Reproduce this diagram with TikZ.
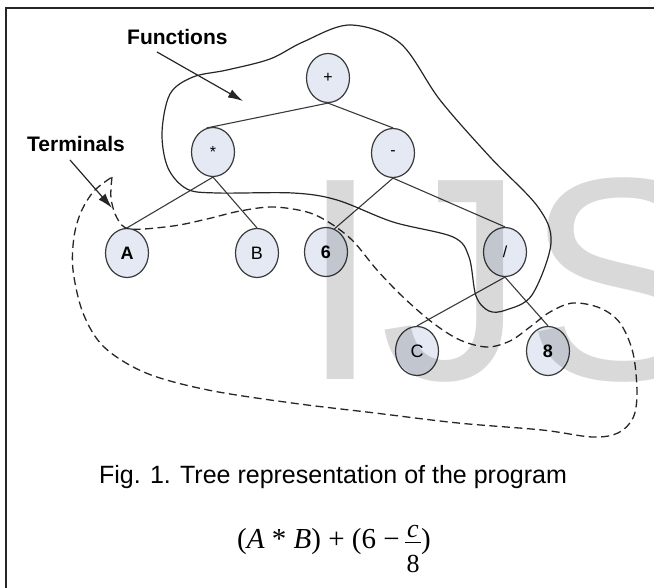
\documentclass[tikz,border=0pt]{standalone}
\usepackage{fontspec}
\setmainfont{Liberation Sans}
\newfontfamily\seriffont{Liberation Serif}
\usetikzlibrary{shapes.geometric,arrows.meta}
\definecolor{nodefill}{HTML}{E4E9F4}
\definecolor{inkline}{HTML}{3A3A3A}
\begin{document}
\begin{tikzpicture}[x=1pt,y=-1pt,
  tnode/.style={ellipse,draw=inkline,line width=1.2pt,fill=nodefill,minimum width=43pt,minimum height=49pt,inner sep=0pt,font=\fontsize{16}{16}\selectfont},
  boldtxt/.style={font=\bfseries\fontsize{18}{18}\selectfont},
  edge/.style={draw=inkline,line width=1.1pt},
  lbl/.style={font=\bfseries\fontsize{21}{21}\selectfont,inner sep=0pt,anchor=base west},
  pointer/.style={draw=black!85,line width=1.2pt,-{Latex[length=15pt,width=9pt]}},
  solidloop/.style={draw=black!85,line width=1.2pt},
  dashloop/.style={draw=black!85,line width=1.3pt,dash pattern=on 8pt off 4.5pt},
  frameline/.style={draw=black!85,line width=2.2pt},
  mathpart/.style={inner sep=0pt,font=\seriffont\fontsize{29}{30}\selectfont},
  fracpart/.style={inner sep=0pt,anchor=base,font=\seriffont\fontsize{26}{27}\selectfont}]
\useasboundingbox (0,0) rectangle (654,588);
% frame
\draw[frameline] (6,588) -- (6,8) -- (654,8);
% labels
\node[lbl] (functions) at (127,45) {Functions};
\node[lbl] (terminals) at (27,152) {Terminals};
\coordinate (ftip) at (243,101);
\coordinate (fstart) at (157,52);
\coordinate (ttip) at (112,208);
\coordinate (tstart) at (70,160);
\draw[pointer] (fstart) -- (ftip);
\draw[pointer] (tstart) -- (ttip);
% tree nodes
\node[tnode] (plus) at (328,78) {+};
\node[tnode] (times) at (213,152) {*};
\node[tnode] (minus) at (393,153) {-};
\node[tnode,boldtxt] (A) at (127,253) {A};
\node[tnode,font=\fontsize{18}{18}\selectfont] (B) at (257,253) {B};
\node[tnode,boldtxt] (six) at (326,252) {6};
\node[tnode] (div) at (505,252) {/};
\node[tnode,font=\fontsize{18}{18}\selectfont] (C) at (417,351) {C};
\node[tnode,boldtxt] (eight) at (548,351) {8};
% edges
\draw[edge] (plus.south) -- (times.105);
\draw[edge] (plus.south) -- (minus.north);
\draw[edge] (times.south) -- (A.north);
\draw[edge] (times.south) -- (B.north);
\draw[edge] (minus.south) -- (six.70);
\draw[edge] (minus.south) -- (div.north);
\draw[edge] (div.south) -- (C.north);
\draw[edge] (div.south) -- (eight.north);
% functions loop
\draw[solidloop] plot[smooth cycle,tension=0.55] coordinates {
 (350,25) (400,43) (440,100) (490,157) (538,207) (551,243) (532,295) (506,310) (489,311) (476,296)
 (469,257) (453,237) (393,222) (337,200) (293,193) (217,193) (187,189) (168,168) (162,133)
 (170,94) (193,77) (227,70) (270,59) (303,42)};
% terminals loop
\draw[dashloop] plot[smooth,tension=0.55] coordinates {
 (112,177) (111,198) (117,218) (130,229) (173,226) (207,219) (240,211) (273,207) (307,212)
 (330,223) (353,241) (377,270) (403,297) (433,323) (460,340) (487,347) (510,341) (530,327)
 (550,312) (573,303) (600,308) (620,323) (633,353) (637,393) (633,418) (618,433) (592,437)
 (542,430) (458,423) (375,413) (292,403) (208,390) (146,373) (104,347) (83,313) (73,270)
 (74,237) (81,212) (94,191) (112,177)};
% caption
\node[inner sep=0pt,anchor=base,font=\fontsize{25}{26}\selectfont] (caption) at (333,483) {Fig. 1. Tree representation of the program};
% formula
\node[mathpart,anchor=base west] (fmain) at (237,548) {(\textit{A} * \textit{B}) + (6 −};
\node[fracpart,font=\seriffont\itshape\fontsize{26}{27}\selectfont] (fnum) at (413,537) {c};
\node[fracpart] (fden) at (413,572) {8};
\coordinate (barl) at (405,542);
\coordinate (barr) at (421,542);
\draw[line width=1pt] (barl) -- (barr);
\node[mathpart,anchor=base west] (fclose) at (421,548) {)};
% watermark
\begin{scope}
\clip (6,8) rectangle (654,588);
\node[inner sep=0pt,anchor=base west,text=black,text opacity=0.15,font=\fontsize{289}{300}\selectfont] (mark) at (300,380) {IJS};
\end{scope}
\end{tikzpicture}
\end{document}
